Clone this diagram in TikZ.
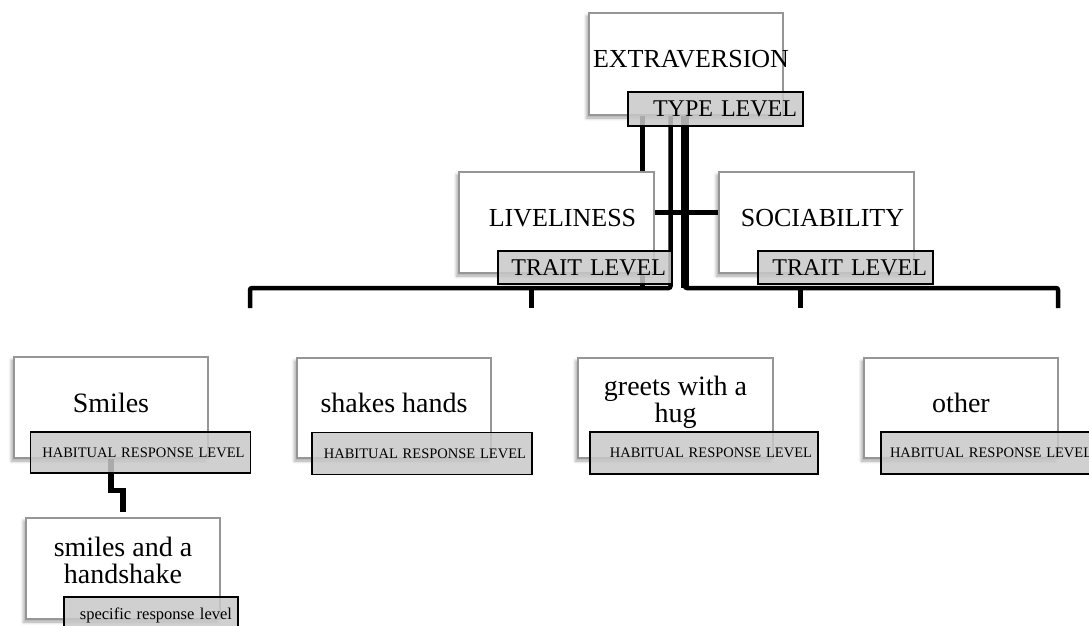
\documentclass[tikz,border=0pt]{standalone}
\usepackage{fontspec}
\setmainfont{Liberation Serif}
\usetikzlibrary{positioning,shadows.blur}
\pgfdeclarelayer{background}
\pgfsetlayers{background,main}
\definecolor{levelgray}{RGB}{200,200,200}
\definecolor{boxedge}{RGB}{150,150,150}
\tikzset{
  boxnode/.style={draw=boxedge, line width=1.3pt, fill=white, minimum width=194pt, minimum height=101pt, align=center, text depth=10pt, font=\fontsize{28pt}{26pt}\selectfont, blur shadow={shadow xshift=-2.5pt, shadow yshift=-3pt, shadow blur radius=3pt, shadow opacity=35}},
  capsnode/.style={boxnode, font=\fontsize{26pt}{27pt}\selectfont},
  twoline/.style={text depth=17pt},
  levelnode/.style={draw=black, line width=1.8pt, fill=levelgray, fill opacity=0.85, text opacity=1, inner xsep=6pt, inner ysep=0pt, align=right},
  toplevel/.style={levelnode, font=\fontsize{24pt}{26pt}\selectfont, minimum height=34pt},
  habitnode/.style={levelnode, font=\fontsize{14.5pt}{16pt}\selectfont, text width=208pt, minimum height=41pt},
  linkline/.style={line width=4.5pt, black}
}

\begin{document}
\begin{tikzpicture}[x=1pt, y=-1pt]
  \useasboundingbox (0,0) rectangle (1089,625);
  \clip (0,0) rectangle (1089,625);
  \node[capsnode, minimum height=102pt, text width=186pt, inner xsep=4pt] (extra) at (686,64) {EXTRAVERSION};
  \node[toplevel, text width=163pt] (typelab) at (715.5,109) {TYPE LEVEL};
  \node[capsnode, minimum width=195pt] (live) at (556.5,222.5) {\hspace*{12pt}LIVELINESS};
  \node[toplevel, text width=162pt, minimum height=33pt] (livelab) at (585,267.5) {TRAIT LEVEL};
  \node[capsnode, minimum width=195pt] (soc) at (816.5,222.5) {\hspace*{12pt}SOCIABILITY};
  \node[toplevel, text width=163pt, minimum height=33pt] (soclab) at (845.5,267.5) {TRAIT LEVEL};
  \node[boxnode] (smiles) at (111,407.5) {Smiles};
  \node[habitnode] (smileslab) at (140.5,452.5) {HABITUAL RESPONSE LEVEL};
  \node[boxnode, minimum height=100pt] (shakes) at (394,408) {shakes hands};
  \node[habitnode, minimum height=42pt] (shakeslab) at (422,453.5) {HABITUAL RESPONSE LEVEL};
  \node[boxnode, twoline, minimum width=195pt, minimum height=100pt, font=\fontsize{28pt}{25pt}\selectfont] (greets) at (675.5,408) {greets with a\\hug};
  \node[habitnode, text width=216pt, minimum height=42pt] (greetslab) at (704,453) {HABITUAL RESPONSE LEVEL};
  \node[boxnode, minimum height=100pt] (other) at (961,408) {other};
  \node[habitnode, minimum height=42pt, align=left] (otherlab) at (991,453) {\hspace*{3pt}HABITUAL RESPONSE LEVEL};
  \node[boxnode, twoline, font=\fontsize{28pt}{27pt}\selectfont] (hand) at (123,568.5) {smiles and a\\handshake};
  \node[levelnode, font=\fontsize{16.5pt}{18pt}\selectfont, text width=162pt, minimum height=36pt] (handlab) at (151,615) {specific response level};

  \coordinate (t1) at ([xshift=-43.5pt]extra.south);
  \coordinate (t2) at ([xshift=-15.5pt]extra.south);
  \coordinate (t3) at ([xshift=-1pt]extra.south);
  \coordinate (b1) at (250,288);
  \coordinate (b2) at (531.5,288);
  \coordinate (b3) at (800.5,288);
  \coordinate (b4) at (1058,288);
  \coordinate (d1) at (250,308);
  \coordinate (d2) at (531.5,308);
  \coordinate (d3) at (800.5,308);
  \coordinate (d4) at (1058,308);

  \begin{pgfonlayer}{background}
    \draw[linkline] (t1) -- (t1 |- b1);
    \draw[linkline, rounded corners=2pt] (t2) |- (b1) -- (d1);
    \draw[linkline] (b2) -- (d2);
    \draw[linkline, line width=7.5pt] (t3) -- (t3 |- b4);
    \draw[linkline, rounded corners=2pt] (t3) |- (b4) -- (d4);
    \draw[linkline] (b3) -- (d3);
    \draw[linkline] ([yshift=10pt]live.east) -- ([yshift=10pt]soc.west);
    \draw[linkline, line width=5.5pt] (smiles.south) -- ++(0,32) -| ([yshift=5pt]hand.north);
  \end{pgfonlayer}
\end{tikzpicture}
\end{document}
